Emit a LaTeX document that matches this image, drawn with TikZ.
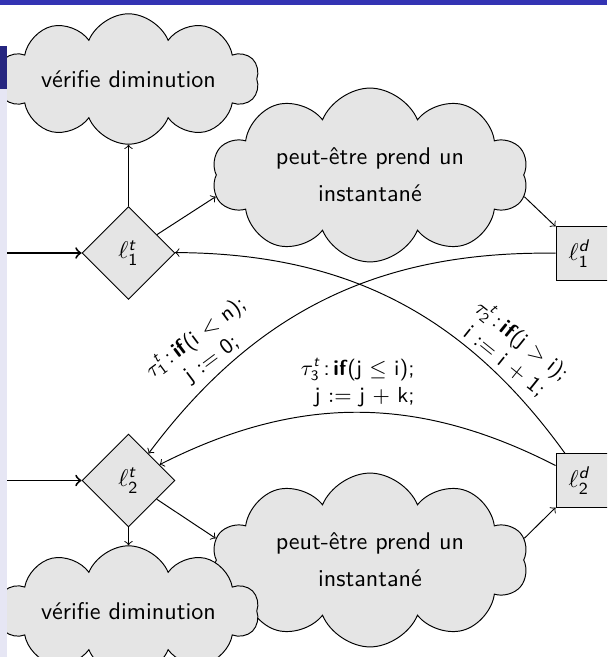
\documentclass[tikz,border=0pt]{standalone}
\usepackage{amsmath}
\usetikzlibrary{shapes.symbols,shapes.geometric}

\definecolor{barblue}{RGB}{51,51,179}
\definecolor{sidedark}{RGB}{38,38,128}
\definecolor{sidelight}{RGB}{230,230,244}
\definecolor{nodegray}{RGB}{229,229,229}

% locations and transitions, with sans digits and letters in scripts
\newcommand{\loc}[2]{\ensuremath{\ell^{\textsf{\itshape #1}}_{\textsf{#2}}}}
\newcommand{\trans}[1]{\ensuremath{\tau^{\textsf{\itshape t}}_{\textsf{#1}}}}

\begin{document}
\begin{tikzpicture}[x=0.4142pt, y=-0.4142pt, font=\sffamily, >=to,
  cloudbox/.style={cloud, cloud puffs=10, cloud puff arc=135, cloud ignores aspect,
    draw, fill=nodegray, inner sep=0pt, align=center},
  smallcloud/.style={cloudbox, minimum width=108pt, minimum height=54pt},
  bigcloud/.style={cloudbox, minimum width=131pt, minimum height=72pt},
  decision/.style={diamond, aspect=1, draw, fill=nodegray, minimum width=38.5pt,
    minimum height=38.5pt, inner sep=0pt},
  locbox/.style={rectangle, draw, fill=nodegray, minimum width=24pt,
    minimum height=22pt, inner sep=0pt},
  flow/.style={->},
  entry/.style={->, thick},
  guard/.style={font=\sffamily\small, align=center, inner sep=2pt}]

\useasboundingbox (0,0) rectangle (607,657);
\clip (0,0) rectangle (607,657);

% nodes
\node[smallcloud] (c1) at (128.5,79) {vérifie diminution};
\node[bigcloud] (c2) at (370,175) {peut-être prend un\\[3.5pt]instantané};
\node[decision] (l1t) at (128.5,253) {\loc{t}{1}};
\node[locbox] (l1d) at (585,253.5) {\hspace*{-5pt}\loc{d}{1}};
\node[decision] (l2t) at (128.5,480.5) {\loc{t}{2}};
\node[locbox] (l2d) at (585,480.5) {\hspace*{-5pt}\loc{d}{2}};
\node[bigcloud] (c4) at (370,560) {peut-être prend un\\[3.5pt]instantané};
\node[smallcloud] (c3) at (128.5,611) {vérifie diminution};

\coordinate (in1) at (0,253);
\coordinate (in2) at (0,480.5);

% entry arrows
\draw[entry] (in1) -- (l1t);
\draw[entry] (in2) -- (l2t);

% checks and snapshots
\draw[flow] (l1t) -- (c1);
\draw[flow] (l1t) -- (c2.188);
\draw[flow] (c2.352) -- (l1d.north west);
\draw[flow] (l2t) -- (c3);
\draw[flow] (l2t) -- (c4.172);
\draw[flow] (c4.8) -- (l2d.south west);

% transitions
\draw[flow] (l1d) to[bend right=27]
  node[guard, pos=0.78, sloped, above, rotate=-6] {\trans{1}\,:\,\textbf{if}(i $<$ n);\\ j $:=$ 0;} (l2t);
\draw[flow] (l2d) to[bend right=27]
  node[guard, pos=0.22, sloped, above, rotate=5] {\trans{2}\,:\,\textbf{if}(j $>$ i);\\ i $:=$ i $+$ 1;} (l1t);
\draw[flow] (l2d) to[bend right=27]
  node[guard, pos=0.5, above, align=right] {\trans{3}\,:\,\textbf{if}(j $\leq$ i);\\ j $:=$ j $+$ k;} (l2t);

% frame decorations
\fill[barblue] (0,0) rectangle (607,5);
\fill[sidedark] (0,46) rectangle (7,89);
\fill[sidelight] (0,89) rectangle (7,657);
\end{tikzpicture}
\end{document}
